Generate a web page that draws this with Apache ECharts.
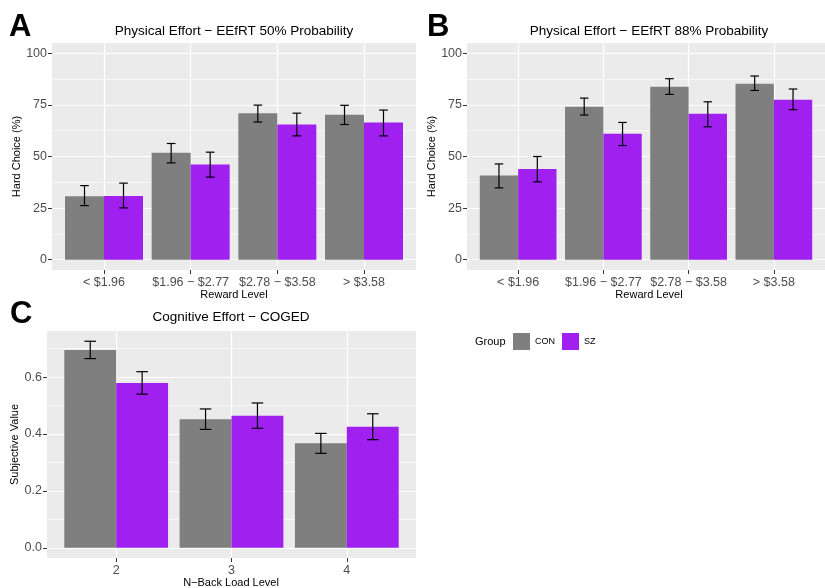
<!DOCTYPE html>
<html>
<head>
<meta charset="utf-8">
<script src="https://cdn.jsdelivr.net/npm/echarts@6/dist/echarts.min.js"></script>
<style>
html,body{margin:0;padding:0;background:#fff;}
#chart{width:825px;height:588px;}
</style>
</head>
<body>
<div id="chart"></div>
<script>
// ---------- data ----------
const groups = ['CON', 'SZ'];
const rewardLevels = ['< $1.96', '$1.96 − $2.77', '$2.78 − $3.58', '> $3.58'];
const loadLevels = ['2', '3', '4'];

// Panel A: EEfRT 50%
const a_CON_mean = [30.7, 51.8, 70.9, 70.2];
const a_CON_lo   = [26.2, 46.9, 66.7, 65.5];
const a_CON_hi   = [35.9, 56.3, 74.9, 74.8];
const a_SZ_mean  = [30.9, 46.1, 65.5, 66.5];
const a_SZ_lo    = [25.1, 40.0, 60.0, 60.0];
const a_SZ_hi    = [37.1, 52.1, 71.0, 72.5];

// Panel B: EEfRT 88%
const b_CON_mean = [40.8, 74.1, 83.8, 85.3];
const b_CON_lo   = [34.8, 70.1, 80.1, 82.0];
const b_CON_hi   = [46.4, 78.3, 87.7, 89.0];
const b_SZ_mean  = [44.0, 61.0, 70.7, 77.5];
const b_SZ_lo    = [37.7, 55.3, 64.4, 72.7];
const b_SZ_hi    = [50.0, 66.5, 76.5, 82.7];

// Panel C: COGED
const c_CON_mean = [0.695, 0.452, 0.367];
const c_CON_lo   = [0.665, 0.416, 0.332];
const c_CON_hi   = [0.726, 0.488, 0.402];
const c_SZ_mean  = [0.579, 0.464, 0.425];
const c_SZ_lo    = [0.540, 0.420, 0.380];
const c_SZ_hi    = [0.619, 0.509, 0.471];

const pctTicks = [0, 25, 50, 75, 100];
const pctMinor = [12.5, 37.5, 62.5, 87.5];
const svTicks = [0, 0.2, 0.4, 0.6];
const svMinor = [0.1, 0.3, 0.5, 0.7];

// ---------- style ----------
const FONT = 'Liberation Sans, Arial, Helvetica, sans-serif';
const COL = { CON: '#7F7F7F', SZ: '#A020F0' };
const DODGE = 0.225;
const TICKFS = 12.5;

function xAxisFor(gridIndex, cats) {
  const vals = cats.map((c, i) => i + 1);
  return {
    type: 'value', gridIndex: gridIndex,
    min: 0.4, max: cats.length + 0.6,
    axisLine: { show: false, onZero: false },
    axisTick: { show: true, length: 4, lineStyle: { color: '#333333', width: 1 }, customValues: vals },
    axisLabel: {
      show: true, margin: 6, fontSize: TICKFS, color: '#4D4D4D', fontFamily: FONT,
      customValues: vals,
      formatter: v => cats[Math.round(v) - 1]
    },
    splitLine: { show: true, lineStyle: { color: '#FFFFFF', width: 1.2 } },
    minorSplitLine: { show: false }
  };
}
function yMajor(gridIndex, min, max, ticks, fmt, name, gap) {
  return {
    type: 'value', gridIndex: gridIndex, min: min, max: max,
    name: name, nameLocation: 'middle', nameGap: gap,
    nameTextStyle: { fontSize: 11, color: '#000', fontFamily: FONT },
    axisLine: { show: false, onZero: false },
    axisTick: { show: true, length: 4, lineStyle: { color: '#333333', width: 1 }, customValues: ticks },
    axisLabel: { show: true, margin: 5, fontSize: TICKFS, color: '#4D4D4D', fontFamily: FONT, customValues: ticks, formatter: fmt },
    splitLine: { show: true, lineStyle: { color: '#FFFFFF', width: 1.2 } }
  };
}
function yMinor(gridIndex, min, max, ticks) {
  return {
    type: 'value', gridIndex: gridIndex, min: min, max: max, position: 'left',
    axisLine: { show: false, onZero: false },
    axisTick: { show: false, customValues: ticks },
    axisLabel: { show: false, customValues: ticks },
    splitLine: { show: true, lineStyle: { color: '#FFFFFF', width: 0.6 } }
  };
}

function barSeries(name, mean, xi, yi) {
  return {
    type: 'bar', name: name, xAxisIndex: xi, yAxisIndex: yi,
    barWidth: '45%', barGap: '0%',
    itemStyle: { color: COL[name] },
    data: mean.map((v, i) => [i + 1, v]),
    z: 2, silent: true
  };
}
function errSeries(name, lo, hi, xi, yi, off) {
  return {
    type: 'custom', name: name + ' err', xAxisIndex: xi, yAxisIndex: yi,
    encode: { x: 0, y: [1, 2] },
    data: lo.map((l, i) => [i + 1 + off, l, hi[i]]),
    z: 5, silent: true,
    renderItem: function (params, api) {
      const x = api.value(0);
      const p1 = api.coord([x, api.value(1)]);
      const p2 = api.coord([x, api.value(2)]);
      const hw = api.size([0.05, 0])[0];
      const st = { stroke: '#000000', lineWidth: 1.2 };
      return {
        type: 'group',
        children: [
          { type: 'line', shape: { x1: p1[0], y1: p1[1], x2: p2[0], y2: p2[1] }, style: st },
          { type: 'line', shape: { x1: p1[0] - hw, y1: p1[1], x2: p1[0] + hw, y2: p1[1] }, style: st },
          { type: 'line', shape: { x1: p2[0] - hw, y1: p2[1], x2: p2[0] + hw, y2: p2[1] }, style: st }
        ]
      };
    }
  };
}

const gridStyle = { show: true, backgroundColor: '#EBEBEB', borderWidth: 0, containLabel: false };
const titleStyle = { fontSize: 13.5, fontWeight: 'normal', color: '#000', fontFamily: FONT };
const letterStyle = { fontSize: 31, fontWeight: 'bold', color: '#000', fontFamily: FONT };
const axisTitleStyle = { fontSize: 11, fontWeight: 'normal', color: '#000', fontFamily: FONT };

const option = {
  animation: false,
  backgroundColor: '#FFFFFF',
  title: [
    { text: 'A', left: 9, top: 12, textStyle: letterStyle, padding: 0 },
    { text: 'B', left: 427, top: 12, textStyle: letterStyle, padding: 0 },
    { text: 'C', left: 10, top: 299, textStyle: letterStyle, padding: 0 },
    { text: 'Physical Effort − EEfRT 50% Probability', left: 234, top: 24, textAlign: 'center', textStyle: titleStyle, padding: 0 },
    { text: 'Physical Effort − EEfRT 88% Probability', left: 649, top: 24, textAlign: 'center', textStyle: titleStyle, padding: 0 },
    { text: 'Cognitive Effort − COGED', left: 231, top: 310, textAlign: 'center', textStyle: titleStyle, padding: 0 },
    { text: 'Group', left: 475, top: 336, textStyle: axisTitleStyle, padding: 0 },
    { text: 'Reward Level', left: 234, top: 289, textAlign: 'center', textStyle: axisTitleStyle, padding: 0 },
    { text: 'Reward Level', left: 649, top: 289, textAlign: 'center', textStyle: axisTitleStyle, padding: 0 },
    { text: 'N−Back Load Level', left: 231, top: 577, textAlign: 'center', textStyle: axisTitleStyle, padding: 0 }
  ],
  legend: {
    data: groups, left: 513, top: 333, orient: 'horizontal',
    itemWidth: 17, itemHeight: 17, itemGap: 7, icon: 'rect', padding: 0,
    textStyle: { fontSize: 9, color: '#000', fontFamily: FONT },
    selectedMode: false
  },
  grid: [
    Object.assign({ left: 52, top: 43, width: 364, height: 227 }, gridStyle),
    Object.assign({ left: 467, top: 43, width: 364, height: 227 }, gridStyle),
    Object.assign({ left: 47, top: 331, width: 369, height: 227 }, gridStyle)
  ],
  xAxis: [
    xAxisFor(0, rewardLevels),
    xAxisFor(1, rewardLevels),
    xAxisFor(2, loadLevels)
  ],
  yAxis: [
    yMajor(0, -5, 105, pctTicks, v => String(v), 'Hard Choice (%)', 30),
    yMinor(0, -5, 105, pctMinor),
    yMajor(1, -5, 105, pctTicks, v => String(v), 'Hard Choice (%)', 30),
    yMinor(1, -5, 105, pctMinor),
    yMajor(2, -0.036, 0.762, svTicks, v => v.toFixed(1), 'Subjective Value', 26),
    yMinor(2, -0.036, 0.762, svMinor)
  ],
  series: [
    barSeries('CON', a_CON_mean, 0, 0),
    barSeries('SZ', a_SZ_mean, 0, 0),
    errSeries('CON', a_CON_lo, a_CON_hi, 0, 0, -DODGE),
    errSeries('SZ', a_SZ_lo, a_SZ_hi, 0, 0, DODGE),
    barSeries('CON', b_CON_mean, 1, 2),
    barSeries('SZ', b_SZ_mean, 1, 2),
    errSeries('CON', b_CON_lo, b_CON_hi, 1, 2, -DODGE),
    errSeries('SZ', b_SZ_lo, b_SZ_hi, 1, 2, DODGE),
    barSeries('CON', c_CON_mean, 2, 4),
    barSeries('SZ', c_SZ_mean, 2, 4),
    errSeries('CON', c_CON_lo, c_CON_hi, 2, 4, -DODGE),
    errSeries('SZ', c_SZ_lo, c_SZ_hi, 2, 4, DODGE)
  ]
};

const chart = echarts.init(document.getElementById('chart'), null, { renderer: 'canvas' });
chart.setOption(option);
</script>
</body>
</html>
